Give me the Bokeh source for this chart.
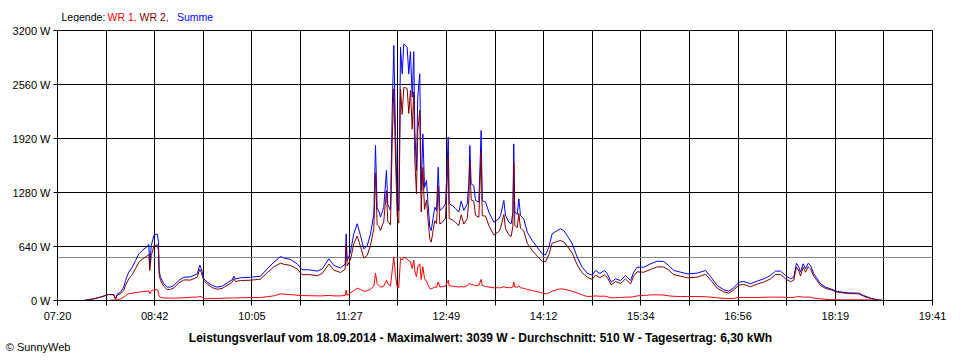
from bokeh.plotting import figure
from bokeh.layouts import column
from bokeh.models import Range1d, FixedTicker, PrintfTickFormatter, Span, LinearAxis
from bokeh.core.properties import value
from bokeh.embed import file_html
from bokeh.resources import INLINE

# time of day in minutes after midnight
minutes = [462.3, 470.7, 476.4, 483.4, 487.7, 489.1, 490.6, 493.4, 496.1, 497.6,
           499.0, 500.4, 503.3, 506.1, 508.9, 511.7, 516.0, 517.3, 518.2, 519.4,
           521.6, 524.4, 525.5, 526.1, 527.2, 530.0, 532.9, 535.7, 538.5, 542.7,
           547.0, 552.6, 558.3, 560.5, 561.7, 563.9, 566.8, 571.0, 575.2, 579.5,
           583.7, 587.9, 589.3, 590.7, 595.0, 603.4, 611.9, 617.6, 623.2, 628.9,
           631.6, 637.3, 643.0, 647.2, 652.8, 659.9, 664.2, 669.8, 674.0, 679.7,
           683.6, 684.5, 685.3, 688.1, 690.9, 693.8, 696.6, 699.4, 702.3, 705.1,
           707.9, 709.3, 710.7, 712.1, 713.5, 716.3, 718.6, 719.7, 722.0, 723.4,
           724.8, 726.2, 727.7, 729.0, 730.5, 731.9, 733.3, 734.7, 736.1, 737.5,
           738.9, 740.4, 741.7, 742.6, 744.0, 745.1, 746.8, 748.0, 749.4, 750.8,
           752.5, 753.6, 755.3, 756.5, 758.2, 759.5, 761.0, 762.4, 763.8, 765.8,
           768.6, 770.9, 771.7, 774.3, 777.1, 779.8, 781.9, 784.1, 787.0, 788.3,
           789.2, 790.3, 792.5, 794.0, 796.8, 798.8, 799.7, 802.5, 805.3, 809.5,
           813.7, 815.2, 818.0, 819.4, 822.2, 824.2, 825.6, 826.4, 827.3, 829.3,
           830.7, 832.1, 834.9, 837.8, 842.0, 846.2, 850.5, 853.3, 856.1, 858.9,
           863.2, 866.0, 868.8, 871.6, 875.9, 880.1, 884.3, 888.6, 892.8, 895.6,
           899.3, 903.2, 905.5, 908.9, 912.6, 916.8, 921.0, 925.3, 928.0, 930.9,
           936.5, 942.2, 947.9, 953.4, 957.7, 961.9, 967.6, 973.3, 981.7, 988.8,
           993.0, 998.7, 1004.3, 1008.5, 1012.7, 1017.0, 1021.2, 1026.9, 1032.6, 1038.1,
           1043.8, 1048.1, 1052.3, 1056.5, 1060.8, 1063.5, 1065.8, 1067.8, 1069.2, 1071.5,
           1073.5, 1075.7, 1077.7, 1080.5, 1083.4, 1086.2, 1090.4, 1094.6, 1100.3, 1108.8,
           1118.6, 1122.8, 1128.5, 1134.2, 1139.3]

# Summe (W)
summe = [0, 20, 40, 71, 71, 20, 75, 99, 158, 237,
         290, 336, 395, 474, 553, 593, 640, 664, 435, 650,
         770, 790, 700, 356, 276, 198, 158, 160, 178, 237,
         276, 280, 316, 420, 380, 257, 217, 178, 158, 170,
         209, 245, 290, 255, 269, 275, 288, 375, 454, 521,
         505, 486, 435, 364, 364, 348, 375, 494, 415, 387,
         430, 790, 470, 573, 790, 909, 770, 612, 650, 790,
         1027, 1837, 1100, 1060, 988, 1106, 1541, 1140, 1067, 2212,
         3022, 2015, 1150, 1067, 3002, 2687, 3039, 3022, 3002, 2687,
         2950, 2410, 2950, 2015, 1541, 2410, 2687, 1300, 1975, 1340,
         1422, 1185, 869, 830, 988, 1106, 1067, 1580, 1067, 1090,
         1146, 1936, 1146, 1126, 1090, 1047, 1180, 1067, 1146, 1383,
         1837, 1383, 1363, 1185, 1166, 2015, 1185, 1166, 1047, 928,
         968, 1007, 1185, 1007, 930, 910, 1040, 1857, 1050, 1020,
         1205, 1007, 968, 810, 711, 632, 553, 540, 632, 790,
         830, 849, 830, 770, 672, 514, 395, 324, 300, 356,
         320, 356, 320, 217, 257, 237, 296, 237, 336, 395,
         395, 435, 466, 462, 415, 356, 336, 316, 324, 356,
         285, 178, 126, 111, 150, 217, 225, 198, 230, 257,
         296, 348, 348, 296, 257, 276, 442, 395, 336, 435,
         375, 442, 415, 316, 257, 198, 158, 138, 107, 91,
         87, 59, 28, 8, 0]

# WR 1 (W)
wr1 = [0, 0, 0, 0, 5, 5, 10, 20, 40, 55,
       71, 80, 87, 95, 99, 105, 111, 115, 80, 118,
       125, 130, 100, 47, 40, 30, 28, 28, 28, 30,
       32, 38, 40, 50, 45, 20, 22, 25, 25, 27,
       28, 30, 30, 30, 32, 35, 35, 45, 55, 79,
       75, 70, 62, 59, 57, 55, 55, 60, 55, 55,
       60, 120, 60, 90, 118, 146, 130, 110, 115, 135,
       170, 324, 200, 180, 158, 170, 240, 200, 170, 350,
       514, 300, 160, 150, 500, 480, 514, 500, 490, 470,
       460, 380, 480, 350, 280, 400, 435, 250, 400, 260,
       230, 190, 140, 138, 150, 160, 155, 220, 160, 165,
       170, 240, 175, 170, 165, 160, 165, 160, 175, 200,
       200, 190, 185, 175, 180, 250, 180, 165, 160, 150,
       152, 150, 165, 155, 152, 152, 160, 220, 160, 158,
       175, 150, 145, 130, 118, 105, 90, 79, 90, 110,
       130, 138, 135, 125, 110, 90, 67, 47, 50, 55,
       50, 52, 45, 32, 33, 35, 40, 40, 45, 55,
       60, 67, 67, 65, 55, 50, 47, 47, 47, 45,
       40, 32, 25, 24, 24, 35, 35, 35, 35, 38,
       40, 40, 40, 38, 35, 35, 45, 45, 45, 40,
       40, 40, 40, 28, 25, 20, 15, 10, 8, 8,
       8, 8, 5, 0, 0]

# WR 2 is the rest of the sum
wr2 = [s - r for s, r in zip(summe, wr1)]

x_tick_minutes = [440.0, 522.33, 604.67, 687.0, 769.33, 851.67, 934.0, 1016.33, 1098.67, 1181.0]
x_tick_labels = ["07:20", "08:42", "10:05", "11:27", "12:49", "14:12", "15:34", "16:56", "18:19", "19:41"]
x_minor_minutes = [481.17, 563.5, 645.83, 728.17, 810.5, 892.83, 975.17, 1057.5, 1139.83]
y_ticks = [0, 640, 1280, 1920, 2560, 3200]
average_w = 510

legend_parts = ["Legende:", "WR 1,", "WR 2,", "Summe"]
legend_colors = ["black", "#FF0000", "#800000", "#0000FF"]
caption = ("Leistungsverlauf vom 18.09.2014 - Maximalwert: 3039 W - "
           "Durchschnitt: 510 W - Tagesertrag: 6,30 kWh")
copyright_text = "\u00a9 SunnyWeb"

FONT = "Liberation Sans"
W = 952
# the strips above and below share the chart's frame (x 57..932 on the page),
# so their ranges are simply page pixels
FRAME_L, FRAME_R = 57, 932

# ---- header strip with the coloured legend text ----
head = figure(width=W, height=22, output_backend="svg", toolbar_location=None,
              x_range=Range1d(FRAME_L, FRAME_R), y_range=Range1d(22, 0),
              x_axis_type=None, y_axis_type=None,
              min_border_left=57, min_border_right=20, min_border_top=0, min_border_bottom=0,
              outline_line_color=None, background_fill_color="white",
              border_fill_color="white")
head.grid.visible = False
legend_x = [61, 107, 139, 176.5]
head.text(x=legend_x, y=[16] * 4, text=legend_parts, text_color=legend_colors,
          text_font=value(FONT), text_font_size="10.5px", text_baseline="middle",
          text_align="left")

# ---- main chart ----
p = figure(width=W, height=304, output_backend="svg", toolbar_location=None,
           x_range=Range1d(440, 1181), y_range=Range1d(0, 3200),
           min_border_left=57, min_border_right=20, min_border_top=8,
           min_border_bottom=26, background_fill_color="white",
           border_fill_color="white", outline_line_color="black")

xt = FixedTicker(ticks=x_tick_minutes, minor_ticks=x_minor_minutes)
yt = FixedTicker(ticks=y_ticks)
p.xaxis.ticker = xt
p.xgrid.ticker = xt
p.yaxis.ticker = yt
p.ygrid.ticker = yt
p.xaxis.major_label_overrides = dict(zip(x_tick_minutes, x_tick_labels))
p.yaxis.formatter = PrintfTickFormatter(format="%d W")

for ax in (p.xaxis[0], p.yaxis[0]):
    ax.axis_line_color = "black"
    ax.major_tick_line_color = "black"
    ax.major_tick_in = 0
    ax.major_label_text_font = FONT
    ax.major_label_text_font_size = "11px"
    ax.major_label_text_color = "black"
p.xaxis.major_tick_out = 5
p.xaxis.minor_tick_out = 5
p.xaxis.minor_tick_in = 0
p.xaxis.minor_tick_line_color = "black"
p.xaxis.major_label_standoff = 4
p.yaxis.major_tick_out = 4
p.yaxis.minor_tick_line_color = None
p.yaxis.major_label_standoff = 3

p.xgrid.grid_line_color = "black"
p.xgrid.grid_line_alpha = 1
p.xgrid.minor_grid_line_color = "black"
p.ygrid.grid_line_color = "black"
p.ygrid.grid_line_alpha = 1

p.add_layout(Span(location=average_w, dimension="width", line_color="#808080",
                  line_width=1, level="underlay"))

p.line(minutes, summe, line_color="#0000FF", line_width=1)
p.line(minutes, wr2, line_color="#800000", line_width=1)
p.line(minutes, wr1, line_color="#FF0000", line_width=1)

# ---- footer strip with caption and copyright ----
foot = figure(width=W, height=28, output_backend="svg", toolbar_location=None,
              x_range=Range1d(FRAME_L, FRAME_R), y_range=Range1d(28, 0),
              x_axis_type=None, y_axis_type=None,
              min_border_left=57, min_border_right=20, min_border_top=0, min_border_bottom=0,
              outline_line_color=None, background_fill_color="white",
              border_fill_color="white")
foot.grid.visible = False
foot.text(x=[480], y=[11], text=[caption], text_color="black",
          text_font=value(FONT), text_font_size="12px", text_font_style="bold",
          text_baseline="middle", text_align="center")
# copyright sits left of the frame: draw it as the label of a left axis
copy_axis = LinearAxis(ticker=FixedTicker(ticks=[20.5]),
                       major_label_overrides={20.5: copyright_text},
                       axis_line_color=None, major_tick_line_color=None,
                       minor_tick_line_color=None, major_tick_in=0, major_tick_out=0,
                       major_label_standoff=-13,
                       major_label_text_font=FONT, major_label_text_font_size="11px",
                       major_label_text_color="black")
foot.add_layout(copy_axis, "left")

layout = column(head, p, foot, spacing=0)
open("out.html", "w").write(file_html(layout, INLINE))
